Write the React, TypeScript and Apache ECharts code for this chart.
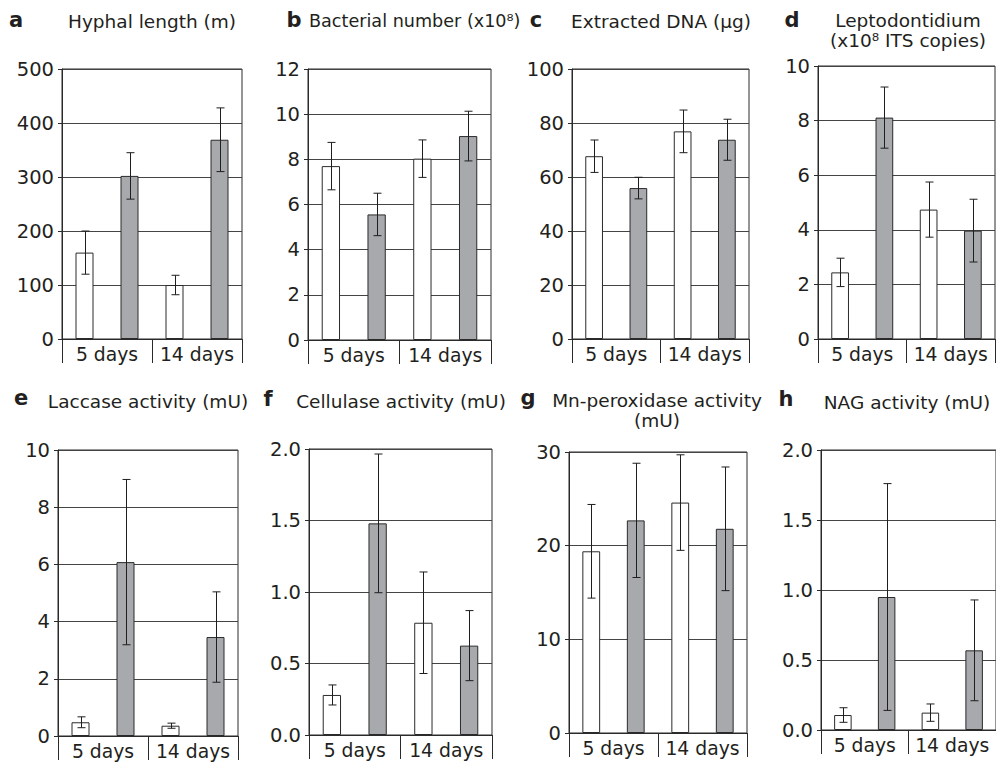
import React, { useEffect, useRef } from "react";
import * as echarts from "echarts";

// ---------- data ----------
const groupLabels = ["5 days", "14 days"];
const barCategories = ["5 days control", "5 days inoculated", "14 days control", "14 days inoculated"];

const hyphalMean = [160, 302, 100, 369];
const hyphalErr = [40, 43, 18, 59];

const bacterialMean = [7.7, 5.56, 8.03, 9.03];
const bacterialErr = [1.05, 0.94, 0.83, 1.1];

const dnaMean = [67.7, 55.9, 76.9, 73.8];
const dnaErr = [6, 4, 7.9, 7.6];

const leptoMean = [2.44, 8.11, 4.74, 3.97];
const leptoErr = [0.52, 1.12, 1.01, 1.15];

const laccaseMean = [0.48, 6.08, 0.36, 3.46];
const laccaseErr = [0.19, 2.89, 0.09, 1.58];

const cellulaseMean = [0.28, 1.48, 0.785, 0.625];
const cellulaseErr = [0.07, 0.485, 0.355, 0.245];

const mnpMean = [19.4, 22.7, 24.6, 21.8];
const mnpErr = [5, 6.1, 5.1, 6.6];

const nagMean = [0.107, 0.95, 0.124, 0.569];
const nagErr = [0.052, 0.81, 0.062, 0.36];

const panelLetters = ["a", "b", "c", "d", "e", "f", "g", "h"];
const panelTitles = [
  "Hyphal length (m)",
  "Bacterial number (x10\u2078)",
  "Extracted DNA (\u00b5g)",
  "Leptodontidium\n(x10\u2078 ITS copies)",
  "Laccase activity (mU)",
  "Cellulase activity (mU)",
  "Mn-peroxidase activity\n(mU)",
  "NAG activity (mU)",
];
const axisMax = [500, 12, 100, 10, 10, 2, 30, 2];
const axisStep = [100, 2, 20, 2, 2, 0.5, 10, 0.5];
const axisDecimals = [0, 0, 0, 0, 0, 1, 0, 1];

const means = [hyphalMean, bacterialMean, dnaMean, leptoMean, laccaseMean, cellulaseMean, mnpMean, nagMean];
const errs = [hyphalErr, bacterialErr, dnaErr, leptoErr, laccaseErr, cellulaseErr, mnpErr, nagErr];

// ---------- layout ----------
const grids = [
  { left: 62, top: 69, width: 180, height: 270 },
  { left: 308, top: 69, width: 183, height: 271 },
  { left: 572, top: 69, width: 177, height: 270 },
  { left: 818, top: 66, width: 177, height: 273 },
  { left: 58, top: 450, width: 180, height: 286 },
  { left: 309, top: 449, width: 183, height: 286 },
  { left: 569, top: 452, width: 178, height: 281 },
  { left: 821, top: 450, width: 177, height: 280 },
];
const titlePos = [
  { lx: 16, ly: 19.5, tx: 152, ty: 21.3, lh: 20, fs: 18.5, al: "center" },
  { lx: 294, ly: 19.5, tx: 309, ty: 21.3, lh: 20, fs: 17.6, al: "left" },
  { lx: 536, ly: 19.5, tx: 661, ty: 21.3, lh: 20, fs: 18.5, al: "center" },
  { lx: 792, ly: 19.5, tx: 908, ty: 30.3, lh: 20, fs: 18.5, al: "center" },
  { lx: 21, ly: 398, tx: 148, ty: 401, lh: 20, fs: 18.5, al: "center" },
  { lx: 268, ly: 399, tx: 401, ty: 401, lh: 20, fs: 18.5, al: "center" },
  { lx: 528, ly: 398, tx: 657, ty: 410, lh: 20, fs: 18.5, al: "center" },
  { lx: 786, ly: 399, tx: 907, ty: 402, lh: 20, fs: 18.5, al: "center" },
];

const FONT = "DejaVu Sans";
const INK = "#231f20";
const FRAME = "#2a2a2a";
const GRIDLINE = "#444";
const WHITE = "#ffffff";
const GRAY = "#a7a9ac";

export default function App() {
  const ref = useRef<HTMLDivElement>(null);

  useEffect(() => {
    if (!ref.current) return;
    const chart = echarts.init(ref.current, undefined, { renderer: "svg" });

    const gridOpt: any[] = [];
    const xAxes: any[] = [];
    const yAxes: any[] = [];
    const series: any[] = [];
    const graphic: any[] = [];

    grids.forEach((g, i) => {
      gridOpt.push({
        left: g.left,
        top: g.top,
        width: g.width,
        height: g.height,
        show: true,
        borderColor: FRAME,
        borderWidth: 1,
        backgroundColor: "transparent",
        containLabel: false,
      });
      xAxes.push({
        type: "category",
        gridIndex: i,
        data: barCategories,
        position: "bottom",
        axisLine: { show: true, lineStyle: { color: FRAME, width: 1 } },
        axisTick: { show: false },
        axisLabel: { show: false },
        splitLine: { show: false },
      });
      xAxes.push({
        type: "category",
        gridIndex: i,
        data: groupLabels,
        position: "bottom",
        boundaryGap: true,
        axisLine: { show: false },
        axisTick: { show: true, length: 24, interval: 0, lineStyle: { color: FRAME, width: 1 } },
        axisLabel: {
          show: true,
          interval: 0,
          margin: 6,
          fontFamily: FONT,
          fontSize: 18.8,
          color: INK,
        },
        splitLine: { show: false },
      });
      const dec = axisDecimals[i];
      yAxes.push({
        type: "value",
        gridIndex: i,
        min: 0,
        max: axisMax[i],
        interval: axisStep[i],
        axisLine: { show: true, lineStyle: { color: FRAME, width: 1 } },
        axisTick: { show: true, length: 4, lineStyle: { color: FRAME, width: 1 } },
        axisLabel: {
          margin: 8,
          fontFamily: FONT,
          fontSize: 19.5,
          color: INK,
          formatter: (v: number) => v.toFixed(dec),
        },
        splitLine: { show: true, lineStyle: { color: GRIDLINE, width: 1 } },
      });
      series.push({
        type: "bar",
        xAxisIndex: i * 2,
        yAxisIndex: i,
        barWidth: "40%",
        z: 2,
        data: means[i].map((v, k) => ({
          value: v,
          itemStyle: {
            color: k % 2 === 0 ? WHITE : GRAY,
            borderColor: FRAME,
            borderWidth: 1,
          },
        })),
      });
      series.push({
        type: "custom",
        xAxisIndex: i * 2,
        yAxisIndex: i,
        z: 5,
        encode: { x: 0, y: 1 },
        data: means[i].map((v, k) => [k, v, errs[i][k]]),
        renderItem: (params: any, api: any) => {
          const x = api.value(0);
          const m = api.value(1);
          const e = api.value(2);
          const top = api.coord([x, m + e]);
          const bot = api.coord([x, m - e]);
          const cx = Math.round(top[0]) + 0.5;
          const hw = 4;
          const st = { stroke: "#1e1e1e", lineWidth: 1 };
          return {
            type: "group",
            children: [
              { type: "line", shape: { x1: cx, y1: top[1], x2: cx, y2: bot[1] }, style: st },
              { type: "line", shape: { x1: cx - hw, y1: top[1], x2: cx + hw, y2: top[1] }, style: st },
              { type: "line", shape: { x1: cx - hw, y1: bot[1], x2: cx + hw, y2: bot[1] }, style: st },
            ],
          };
        },
      });

      const tp = titlePos[i];
      graphic.push({
        type: "text",
        x: tp.lx,
        y: tp.ly,
        style: {
          text: panelLetters[i],
          fontFamily: FONT,
          fontSize: 21,
          fontWeight: "bold",
          fill: INK,
          textAlign: "center",
          textVerticalAlign: "middle",
          align: "center",
          verticalAlign: "middle",
        },
      });
      graphic.push({
        type: "text",
        x: tp.tx,
        y: tp.ty,
        style: {
          text: panelTitles[i],
          fontFamily: FONT,
          fontSize: tp.fs,
          lineHeight: tp.lh,
          fill: INK,
          textAlign: tp.al,
          textVerticalAlign: "middle",
          align: tp.al,
          verticalAlign: "middle",
        },
      });
    });

    chart.setOption({
      animation: false,
      backgroundColor: "#ffffff",
      textStyle: { fontFamily: FONT },
      grid: gridOpt,
      xAxis: xAxes,
      yAxis: yAxes,
      series,
      graphic,
    });

    return () => chart.dispose();
  }, []);

  return (
    <div
      ref={ref}
      style={{ position: "absolute", left: 0, top: 0, width: 996, height: 763 }}
    />
  );
}
